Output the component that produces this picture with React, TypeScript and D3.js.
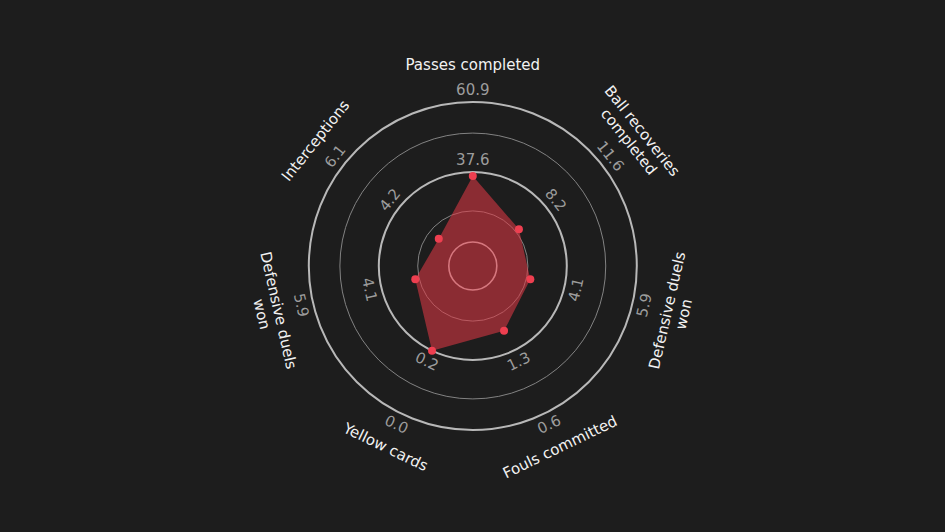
import * as d3 from 'd3';

const W = 945;
const H = 532;

// radar axes, clockwise from the top
const categories = [
  'Passes completed',
  'Ball recoveries\ncompleted',
  'Defensive duels\nwon',
  'Fouls committed',
  'Yellow cards',
  'Defensive duels\nwon',
  'Interceptions',
];
// value at the inner circle, the middle ring and the outer ring of each axis
const lowValues = [14.3, 4.8, 2.3, 2.0, 0.4, 2.3, 2.3];
const midValues = [37.6, 8.2, 4.1, 1.3, 0.2, 4.1, 4.2];
const highValues = [60.9, 11.6, 5.9, 0.6, 0.0, 5.9, 6.1];
// player values
const playerValues = [36.3, 6.5, 3.2, 1.52, 0.2, 3.2, 2.83];

const cx = 472.8;
const cy = 266;
const innerR = 24;
const outerR = 164;

const angleOf = (i: number) => (i * 360) / categories.length; // degrees clockwise from top

const point = (deg: number, r: number): [number, number] => {
  const a = (deg * Math.PI) / 180;
  return [cx + r * Math.sin(a), cy - r * Math.cos(a)];
};

// keep text upright
const textRotation = (deg: number) => {
  const d = ((deg + 180) % 360) - 180;
  if (d > 90) return d - 180;
  if (d < -90) return d + 180;
  return d;
};

const scales = categories.map((_, i) =>
  d3.scaleLinear().domain([lowValues[i], highValues[i]]).range([innerR, outerR])
);

const fmt = d3.format('.1f');

export default function App() {
  const pts = playerValues.map((v, i) => point(angleOf(i), scales[i](v)));
  const area = d3.line().curve(d3.curveLinearClosed)(pts) || '';

  const ringR = d3.scaleLinear().domain([0, 1]).range([innerR, outerR]);

  return (
    <div style={{ position: 'fixed', left: 0, top: 0 }}>
      <svg width={W} height={H} style={{ display: 'block', background: '#1d1d1d' }}
        fontFamily="DejaVu Sans, sans-serif">
        <rect width={W} height={H} fill="#1d1d1d" />

        {/* rings */}
        <circle cx={cx} cy={cy} r={ringR(0)} fill="none" stroke="#c4c4c4" strokeWidth={1.6} />
        <circle cx={cx} cy={cy} r={ringR(0.222)} fill="none" stroke="#828282" strokeWidth={1} />
        <circle cx={cx} cy={cy} r={ringR(0.5)} fill="none" stroke="#b8b8b8" strokeWidth={2} />
        <circle cx={cx} cy={cy} r={ringR(0.778)} fill="none" stroke="#828282" strokeWidth={1} />
        <circle cx={cx} cy={cy} r={ringR(1)} fill="none" stroke="#b8b8b8" strokeWidth={2} />

        {/* player polygon */}
        <path d={area} fill="#e63946" fillOpacity={0.55} stroke="none" />
        {pts.map((p, i) => (
          <circle key={i} cx={p[0]} cy={p[1]} r={4} fill="#ee3f50" />
        ))}

        {/* ring value labels */}
        {categories.map((_, i) => {
          const deg = angleOf(i);
          const rot = textRotation(deg);
          return [midValues[i], highValues[i]].map((v, j) => {
            const [x, y] = point(deg, scales[i](v) + 12);
            return (
              <text key={`${i}-${j}`} x={x} y={y} fill="#9c9c9c" fontSize={15}
                textAnchor="middle" dominantBaseline="central"
                transform={`rotate(${rot},${x},${y})`}>
                {fmt(v)}
              </text>
            );
          });
        })}

        {/* category labels */}
        {categories.map((c, i) => {
          const deg = angleOf(i);
          const rot = textRotation(deg);
          const lines = c.split('\n');
          const [x, y] = point(deg, lines.length > 1 ? 208 : 201);
          return (
            <text key={c + i} x={x} y={y} fill="#f2f2f2" fontSize={15}
              textAnchor="middle" dominantBaseline="central"
              transform={`rotate(${rot},${x},${y})`}>
              {lines.map((ln, k) => (
                <tspan key={k} x={x} dy={k === 0 ? `${-(lines.length - 1) * 0.57}em` : '1.14em'}>{ln}</tspan>
              ))}
            </text>
          );
        })}
      </svg>
    </div>
  );
}
